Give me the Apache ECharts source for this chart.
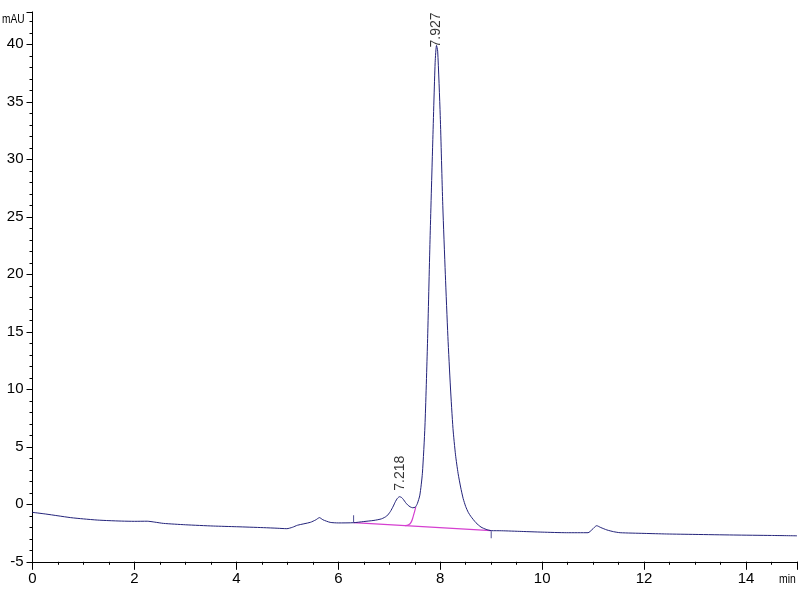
<!DOCTYPE html>
<html>
<head>
<meta charset="utf-8">
<script src="https://cdn.jsdelivr.net/npm/echarts@6/dist/echarts.min.js"></script>
<style>
html,body{margin:0;padding:0;background:#fff;}
#chart{width:800px;height:600px;}
</style>
</head>
<body>
<div id="chart"></div>
<script>
// Chromatogram signal (time in min, absorbance in mAU)
const signalTime = [0.0,0.25,0.5,0.75,1.0,1.27,1.5,1.75,2.0,2.25,2.4,2.57,3.0,3.55,4.0,4.53,4.8,4.99,5.1,5.2,5.45,5.56,5.63,5.70,5.84,6.0,6.3,6.5,6.7,6.85,6.95,7.02,7.08,7.12,7.16,7.20,7.24,7.28,7.32,7.36,7.41,7.46,7.51,7.55,7.60,7.65,7.70,7.75,7.80,7.85,7.90,7.927,7.95,8.00,8.05,8.10,8.15,8.20,8.25,8.30,8.35,8.40,8.45,8.50,8.55,8.60,8.70,8.80,8.90,9.00,9.2,9.6,10.0,10.48,10.9,10.98,11.07,11.15,11.27,11.4,11.53,12.0,12.44,13.0,13.75,14.5,15.0];
const signalValue = [-0.70,-0.84,-1.00,-1.16,-1.27,-1.37,-1.42,-1.46,-1.48,-1.47,-1.55,-1.66,-1.78,-1.89,-1.95,-2.03,-2.08,-2.12,-2.00,-1.82,-1.57,-1.35,-1.16,-1.35,-1.57,-1.62,-1.60,-1.50,-1.40,-1.26,-1.02,-0.64,-0.15,0.23,0.52,0.66,0.60,0.40,0.15,-0.05,-0.22,-0.30,-0.25,0.05,0.8,2.7,6.8,14.0,23.0,31.0,38.4,39.9,39.4,33.8,26.0,20.0,14.6,10.2,6.6,4.3,2.7,1.5,0.5,-0.2,-0.7,-1.05,-1.6,-1.98,-2.18,-2.29,-2.30,-2.36,-2.42,-2.47,-2.47,-2.2,-1.86,-2.02,-2.23,-2.38,-2.47,-2.53,-2.58,-2.62,-2.67,-2.71,-2.74];

// Integration baseline (magenta)
const baselineTime = [6.3, 9.0];
const baselineValue = [-1.60, -2.29];
const skimTime = [7.31, 7.38, 7.43, 7.47, 7.52];
const skimValue = [-1.86, -1.78, -1.55, -1.05, -0.25];

// Peaks
const peakTimes = [7.218, 7.927];
const peakHeights = [0.66, 39.9];
const peakLabels = ['7.218', '7.927'];

// Event marks (peak start / end)
const eventTimes = [6.3, 9.0];
const eventValues = [-1.60, -2.29];

// Axes
const xMin = 0, xMax = 15, xMajor = 2, xMinor = 0.5;
const yMin = -5, yMax = 42.8, yMajor = 5, yMinor = 1;

const zip = (a, b) => a.map((v, i) => [v, b[i]]);
const tickFont = "'Liberation Sans Narrow', 'Liberation Sans', Arial, sans-serif";

const chart = echarts.init(document.getElementById('chart'), null, {renderer: 'canvas'});
const axisLine = {show: true, onZero: false, lineStyle: {color: '#000', width: 1}};

chart.setOption({
  backgroundColor: '#fff',
  animation: false,
  grid: {left: 32.5, right: 2.5, top: 12.1, bottom: 38.2, containLabel: false},
  xAxis: [
    {type: 'value', min: xMin, max: xMax, interval: xMajor, position: 'bottom',
     axisLine: axisLine, splitLine: {show: false},
     axisTick: {show: true, length: 8, lineStyle: {color: '#000'}},
     axisLabel: {color: '#000', fontSize: 15, fontFamily: tickFont, margin: 10,
       formatter: v => (v % 2 === 0 && v <= 14) ? String(v) : ''}},
    {type: 'value', min: xMin, max: xMax, interval: xMinor, position: 'bottom',
     axisLine: axisLine, splitLine: {show: false},
     axisTick: {show: true, length: 3, lineStyle: {color: '#000'}},
     axisLabel: {show: false}}
  ],
  yAxis: [
    {type: 'value', min: yMin, max: yMax, interval: yMajor, position: 'left',
     axisLine: axisLine, splitLine: {show: false},
     axisTick: {show: true, length: 6, lineStyle: {color: '#000'}},
     axisLabel: {color: '#000', fontSize: 15, fontFamily: tickFont, margin: 9,
       formatter: v => (v % 5 === 0) ? String(v) : ''}},
    {type: 'value', min: yMin, max: yMax, interval: yMinor, position: 'left',
     axisLine: axisLine, splitLine: {show: false},
     axisTick: {show: true, length: 3, lineStyle: {color: '#000'}},
     axisLabel: {show: false}}
  ],
  graphic: [
    {type: 'text', x: 2, y: 13, scaleX: 0.78, style: {text: 'mAU', fill: '#000', font: "13px " + tickFont}},
    {type: 'text', x: 779, y: 573, scaleX: 0.8, style: {text: 'min', fill: '#000', font: "13px " + tickFont}}
  ],
  series: [
    {type: 'line', name: 'baseline', data: zip(baselineTime, baselineValue), showSymbol: false,
     lineStyle: {color: '#d53fd0', width: 1.2}, z: 2},
    {type: 'line', name: 'skim', data: zip(skimTime, skimValue), showSymbol: false, smooth: 0.4,
     lineStyle: {color: '#d53fd0', width: 1.2}, z: 2},
    {type: 'line', name: 'signal', data: zip(signalTime, signalValue), showSymbol: false,
     smooth: 0.22,
     lineStyle: {color: '#23237a', width: 1}, z: 3},
    {type: 'scatter', name: 'events', data: zip(eventTimes, eventValues).map((p, i) => ({
        value: p, symbolOffset: [0, i === 0 ? -4 : 4]})),
     symbol: 'rect', symbolSize: [1, 7], itemStyle: {color: '#23237a'}, z: 4, silent: true},
    {type: 'scatter', name: 'peaks', symbolSize: 0, z: 5, silent: true,
     data: peakTimes.map((t, i) => ({
       value: [t, peakHeights[i]],
       label: {show: true, formatter: peakLabels[i], position: 'top', rotate: 90,
         align: 'left', verticalAlign: 'middle', distance: i === 0 ? 6 : -2,
         color: '#000', fontSize: 14, fontFamily: "'Liberation Sans', Arial, sans-serif"}
     }))}
  ]
});
</script>
</body>
</html>
